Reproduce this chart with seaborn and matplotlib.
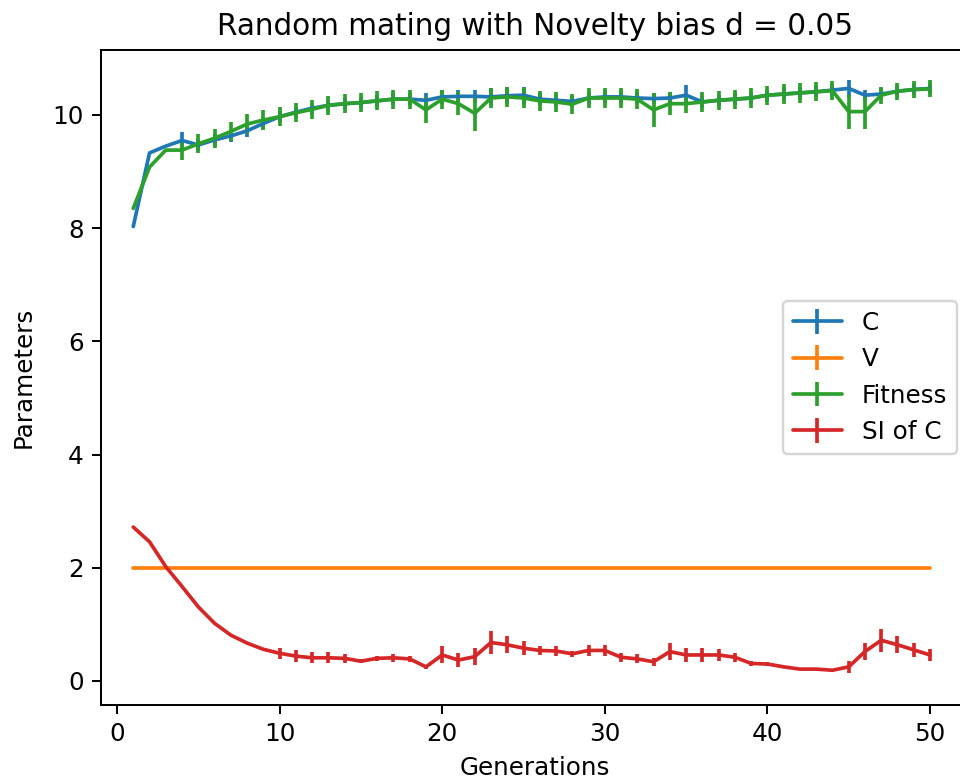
import matplotlib
matplotlib.use("Agg")
import matplotlib.pyplot as plt
import seaborn as sns

generations = list(range(1, 51))

c_vals = [8.03, 9.33, 9.45, 9.55, 9.47, 9.56, 9.63, 9.72, 9.85, 9.97,
          10.05, 10.12, 10.17, 10.20, 10.22, 10.25, 10.28, 10.28, 10.26, 10.32,
          10.33, 10.33, 10.32, 10.34, 10.35, 10.28, 10.26, 10.24, 10.30, 10.32,
          10.32, 10.30, 10.29, 10.30, 10.35, 10.23, 10.26, 10.28, 10.30, 10.35,
          10.37, 10.39, 10.41, 10.44, 10.47, 10.35, 10.37, 10.42, 10.45, 10.47]
c_err = [0, 0, 0, 0.15, 0.1, 0.1, 0.1, 0.1, 0.1, 0.1,
         0.1, 0.1, 0.1, 0.1, 0.1, 0.1, 0.1, 0.1, 0.12, 0.12,
         0.12, 0.12, 0.15, 0.15, 0.15, 0.1, 0.1, 0.1, 0.1, 0.1,
         0.1, 0.1, 0.1, 0.1, 0.18, 0.1, 0.1, 0.1, 0.1, 0.1,
         0.1, 0.1, 0.1, 0.1, 0.15, 0.1, 0.1, 0.1, 0.1, 0.1]

v_vals = [2.0] * 50
v_err = [0.0] * 50

fit_vals = [8.35, 9.08, 9.38, 9.38, 9.49, 9.59, 9.71, 9.84, 9.91, 9.97,
            10.04, 10.10, 10.17, 10.20, 10.22, 10.25, 10.28, 10.28, 10.09, 10.28,
            10.20, 10.03, 10.30, 10.32, 10.30, 10.25, 10.23, 10.19, 10.30, 10.30,
            10.30, 10.28, 10.09, 10.20, 10.20, 10.23, 10.26, 10.28, 10.30, 10.35,
            10.37, 10.39, 10.41, 10.43, 10.06, 10.06, 10.35, 10.42, 10.45, 10.46]
fit_err = [0, 0, 0, 0.17, 0.17, 0.17, 0.17, 0.17, 0.17, 0.17,
           0.17, 0.17, 0.17, 0.17, 0.17, 0.17, 0.17, 0.17, 0.23, 0.17,
           0.2, 0.32, 0.18, 0.18, 0.18, 0.18, 0.18, 0.18, 0.18, 0.18,
           0.18, 0.18, 0.3, 0.2, 0.17, 0.17, 0.17, 0.17, 0.17, 0.17,
           0.17, 0.17, 0.17, 0.17, 0.3, 0.3, 0.15, 0.15, 0.15, 0.15]

si_vals = [2.72, 2.46, 2.02, 1.67, 1.31, 1.02, 0.81, 0.67, 0.56, 0.49,
           0.44, 0.41, 0.41, 0.40, 0.35, 0.40, 0.41, 0.39, 0.25, 0.46,
           0.37, 0.43, 0.68, 0.64, 0.58, 0.54, 0.53, 0.48, 0.54, 0.54,
           0.42, 0.39, 0.34, 0.52, 0.46, 0.46, 0.46, 0.42, 0.31, 0.30,
           0.25, 0.21, 0.21, 0.19, 0.25, 0.52, 0.72, 0.64, 0.55, 0.46]
si_err = [0, 0, 0, 0, 0, 0, 0, 0, 0, 0.1,
          0.1, 0.1, 0.1, 0.08, 0.03, 0.05, 0.07, 0.05, 0.04, 0.15,
          0.13, 0.15, 0.2, 0.15, 0.12, 0.08, 0.08, 0.05, 0.1, 0.1,
          0.08, 0.08, 0.07, 0.15, 0.12, 0.12, 0.1, 0.08, 0.04, 0.03,
          0.02, 0.02, 0.02, 0.03, 0.1, 0.15, 0.2, 0.15, 0.13, 0.1]

series_names = ["C", "V", "Fitness", "SI of C"]

sns.set_style("ticks", {"axes.edgecolor": "black", "text.color": "black",
                        "xtick.color": "black", "ytick.color": "black",
                        "axes.labelcolor": "black"})
plt.rcParams['font.family'] = ['DejaVu Sans']
palette = sns.color_palette("tab10", 4)

DPI = 177
fig = plt.figure(figsize=(960 / DPI, 781 / DPI), dpi=DPI)
# the reference's right spine lies just beyond the picture's right edge
L, R, T, B = 101, 969, 50, 705
ax = fig.add_axes([L / 960, (781 - B) / 781, (R - L) / 960, (B - T) / 781])

for name, vals, errs, col in zip(series_names,
                                  [c_vals, v_vals, fit_vals, si_vals],
                                  [c_err, v_err, fit_err, si_err],
                                  palette):
    ax.errorbar(generations, vals, yerr=errs, color=col, label=name)

ax.set_xlim(-(117 - L) / 16.26, 50 + (R - 930) / 16.26)
ax.set_ylim(-(B - 681) / 56.6, (681 - T) / 56.6)

ax.set_xlabel("Generations")
ax.set_ylabel("Parameters", labelpad=7)
ax.set_title("Random mating with Novelty bias d = 0.05")
ax.legend(loc="center right")

fig.savefig("out.png", dpi=DPI)
